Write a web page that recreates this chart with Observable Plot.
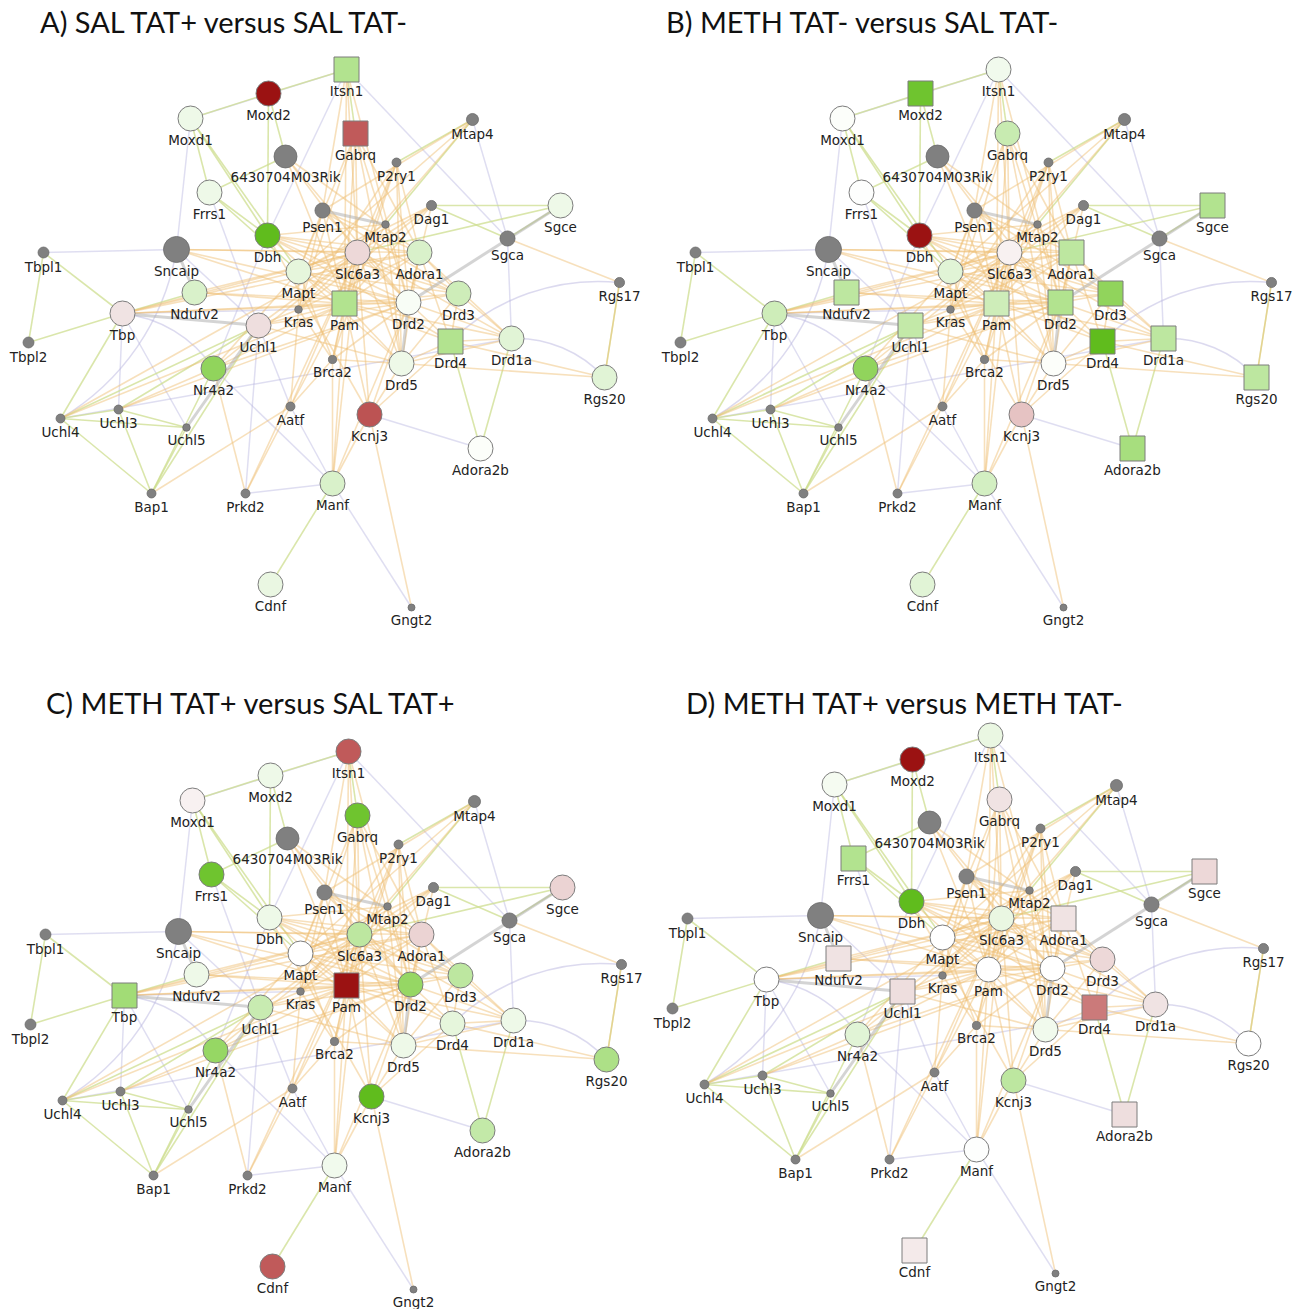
<!DOCTYPE html>
<html><head><meta charset="utf-8">
<script src="https://cdn.jsdelivr.net/npm/d3@7"></script>
<script src="https://cdn.jsdelivr.net/npm/@observablehq/plot@0.6"></script>
<style>
body{margin:0;background:#fff;}
#wrap{position:relative;width:1303px;height:1309px;overflow:hidden;background:#fff;}
.title{position:absolute;font-family:Lato,"Open Sans",sans-serif;font-size:29px;color:#111;white-space:nowrap;line-height:1;}
.panel{position:absolute;}
.panel svg{overflow:visible;}
</style></head><body><div id="wrap"></div>
<script>
// ---- network layout (Cytoscape/GeneMANIA layout coordinates) ----
const queryGenes = ["Itsn1","Moxd2","Moxd1","Gabrq","Frrs1","Dbh","Sgce","Mapt","Slc6a3","Adora1","Ndufv2","Tbp","Uchl1","Pam","Drd2","Drd3","Drd4","Drd1a","Drd5","Nr4a2","Rgs20","Kcnj3","Adora2b","Manf","Cdnf"];
const queryX = [346,268,190,355,209,267,560,298,357,419,194,122,258,344,408,458,450,511,401,213,604,369,480,332,270];
const queryY = [69,93,118,133,192,235,205,271,252,252,292,313,325,303,302,293,341,338,363,368,377,414,448,483,584];

const relatedGenes = ["6430704M03Rik","Mtap4","P2ry1","Psen1","Dag1","Mtap2","Sgca","Sncaip","Tbpl1","Tbpl2","Kras","Rgs17","Brca2","Uchl3","Uchl4","Uchl5","Aatf","Bap1","Prkd2","Gngt2"];
const relatedX = [285,472,396,322,431,385,507,176,43,28,298,619,332,118,60,186,290,151,245,411];
const relatedY = [156,119,162,210,205,224,238,249,252,342,309,282,359,409,418,427,406,493,493,607];
const relatedScore = [0.82,0.43,0.32,0.54,0.36,0.27,0.54,0.93,0.39,0.39,0.27,0.36,0.29,0.32,0.32,0.27,0.32,0.32,0.32,0.25];

// ---- expression change per comparison (aligned with queryGenes) ----
const foldA = [1.7,-3,0.5,-2,0.5,3,0.5,0.7,-0.6,1.0,1.0,-0.4,-0.5,1.7,0.2,1.2,1.7,0.8,0.5,2.3,0.8,-2.1,0.1,1.0,0.6];
const foldB = [0.4,2.8,0.1,1.3,0.05,-3,1.7,0.8,-0.2,1.5,1.5,1.2,1.4,1.2,1.7,2.3,3,1.5,0.1,2.3,1.5,-1.0,1.9,1.1,0.8];
const foldC = [-2,0.5,-0.2,2.8,2.8,0.5,-0.7,0,1.5,-0.7,0.5,2.0,1.3,-3,2.2,1.5,0.7,0.5,0.5,2.2,1.8,3.0,1.4,0.4,-2];
const foldD = [0.6,-3,0.3,-0.4,1.7,3,-0.6,0,0.6,-0.4,-0.4,0,-0.5,0,0,-0.6,-1.7,-0.4,0.4,0.8,0,1.5,-0.5,0.05,-0.3];

// significant genes (drawn as squares)
const sigA = ["Itsn1","Gabrq","Pam","Drd4"];
const sigB = ["Moxd2","Sgce","Adora1","Ndufv2","Uchl1","Pam","Drd2","Drd3","Drd4","Drd1a","Rgs20","Adora2b"];
const sigC = ["Tbp","Pam"];
const sigD = ["Frrs1","Sgce","Adora1","Ndufv2","Uchl1","Drd4","Adora2b","Cdnf"];

const titles = ["A) SAL TAT+ versus SAL TAT-","B) METH TAT- versus SAL TAT-","C) METH TAT+ versus SAL TAT+","D) METH TAT+ versus METH TAT-"];

// ---- interactions ----
const coexpression = ["Itsn1-Slc6a3","Itsn1-Drd2","Itsn1-Psen1","Itsn1-Pam",
"Gabrq-Pam","Gabrq-Drd2","Gabrq-Adora1","Gabrq-Mapt","Gabrq-Slc6a3","Gabrq-Drd5","Gabrq-Kras",
"6430704M03Rik-Slc6a3","6430704M03Rik-Pam","6430704M03Rik-Drd2","6430704M03Rik-Adora1",
"P2ry1-Adora1","P2ry1-Slc6a3","P2ry1-Drd2","P2ry1-Kras","P2ry1-Pam","P2ry1-Drd5","P2ry1-Brca2",
"Mtap4-Psen1","Mtap4-Mapt","Mtap4-Slc6a3",
"Psen1-Mapt","Psen1-Pam","Psen1-Kras","Psen1-Drd2","Psen1-Adora1","Psen1-Drd3",
"Dag1-Pam","Dag1-Slc6a3","Dag1-Mapt","Dag1-Drd2","Dag1-Kras",
"Mtap2-Mapt","Mtap2-Pam","Mtap2-Drd5","Mtap2-Dbh",
"Dbh-Slc6a3","Dbh-Drd2","Dbh-Pam","Dbh-Drd3","Dbh-Adora1","Dbh-Kcnj3","Dbh-Drd4",
"Sncaip-Pam","Sncaip-Slc6a3","Sncaip-Drd2","Sncaip-Adora1",
"Slc6a3-Drd2","Slc6a3-Drd3","Slc6a3-Drd5","Slc6a3-Pam","Slc6a3-Mapt","Slc6a3-Kras","Slc6a3-Brca2","Slc6a3-Drd1a","Slc6a3-Kcnj3","Slc6a3-Nr4a2","Slc6a3-Uchl1",
"Adora1-Drd2","Adora1-Drd3","Adora1-Drd1a","Adora1-Pam","Adora1-Mapt","Adora1-Drd5","Adora1-Kras","Adora1-Drd4",
"Mapt-Pam","Mapt-Kras","Mapt-Drd2","Mapt-Drd3","Mapt-Brca2","Mapt-Drd5",
"Ndufv2-Pam","Ndufv2-Slc6a3","Ndufv2-Drd2",
"Tbp-Mapt","Tbp-Pam","Tbp-Slc6a3","Tbp-Drd2","Tbp-Adora1",
"Uchl1-Pam","Uchl1-Drd2","Uchl1-Kras","Uchl1-Drd5",
"Pam-Drd2","Pam-Drd3","Pam-Drd5","Pam-Drd1a","Pam-Kras","Pam-Brca2","Pam-Drd4","Pam-Kcnj3",
"Drd2-Drd3","Drd2-Drd4","Drd2-Drd1a","Drd2-Kcnj3","Drd2-Brca2",
"Drd3-Drd4","Drd3-Drd1a","Drd3-Drd5",
"Drd4-Drd5","Drd4-Drd1a","Drd4-Rgs20","Drd1a-Drd5","Drd5-Rgs20",
"Nr4a2-Prkd2","Nr4a2-Pam","Nr4a2-Drd2","Nr4a2-Mapt",
"Uchl3-Nr4a2","Uchl4-Slc6a3","Uchl4-Pam","Uchl3-Drd2","Bap1-Aatf",
"Aatf-Kras","Aatf-Pam","Aatf-Prkd2","Aatf-Slc6a3",
"Brca2-Kras","Brca2-Drd5","Brca2-Aatf",
"Kcnj3-Drd5","Kcnj3-Gngt2","Kcnj3-Manf","Kcnj3-Drd4",
"Manf-Pam","Manf-Brca2","Manf-Slc6a3","Manf-Drd2",
"Rgs17-Rgs20","Sgca-Rgs17","Prkd2-Slc6a3"];

const physical = ["Itsn1-Moxd1","Itsn1-Sgca","Itsn1-Dbh","Moxd1-Sncaip","Mtap4-Sgca","Tbp-Uchl3","Tbp-Uchl5",
"Tbpl1-Sncaip","Uchl1-Prkd2","Nr4a2-Manf","Prkd2-Manf","Manf-Gngt2","Kcnj3-Adora2b","Frrs1-Uchl1",
"Dbh-Nr4a2","Uchl1-Aatf","Sncaip-Uchl1","Sgca-Drd1a","Uchl4-Drd1a","Tbp-Kras","Aatf-Manf"];

const sharedDomains = ["Moxd1-Moxd2","Moxd1-Frrs1","Moxd1-Dbh","Moxd2-Dbh","Moxd2-6430704M03Rik","Frrs1-6430704M03Rik",
"Frrs1-Dbh","Frrs1-Mapt","Moxd1-Mapt","Tbpl1-Tbp","Tbpl1-Tbpl2","Tbpl2-Tbp","Tbp-Uchl4","Tbp-Ndufv2",
"Uchl4-Uchl3","Uchl4-Uchl5","Uchl3-Uchl5","Uchl4-Bap1","Uchl3-Bap1","Uchl5-Bap1","Uchl1-Uchl4","Uchl1-Uchl3",
"Uchl1-Bap1","Nr4a2-Bap1","Manf-Cdnf","Mtap4-Mtap2","Mtap4-P2ry1","Sgce-Sgca","Sgce-Dag1","Sgca-Dag1",
"Sgce-Slc6a3","Drd4-Adora2b","Drd1a-Adora2b","Rgs17-Rgs20","Itsn1-Gabrq","Itsn1-Moxd2"];

const predicted = ["Sgce-Drd2","Drd2-Drd5","Uchl5-Uchl1","Sncaip-Ndufv2","Psen1-Mtap2","Tbp-Uchl1"];
const arcs = ["Drd1a-Rgs20","Sncaip-Uchl4","Tbp-Nr4a2","Drd4-Rgs17"];

// ---- build ----
const nodes = queryGenes.map((g, i) => ({name: g, x: queryX[i], y: queryY[i], query: true, i}))
  .concat(relatedGenes.map((g, i) => ({name: g, x: relatedX[i], y: relatedY[i], query: false, score: relatedScore[i]})));
const pos = new Map(nodes.map(n => [n.name, n]));
const pairs = list => list.map(s => s.split("-"));
const QR = 12.5, RMAX = 14;
const labelOffset = n => (n.query ? QR : n.score * RMAX) + 9.5;

const folds = [foldA, foldB, foldC, foldD];
const sigs = [sigA, sigB, sigC, sigD];
const boxes = [
  {left: 0, top: 40, w: 651, h: 642, tx: 40, ty: 7},
  {left: 652, top: 40, w: 651, h: 642, tx: 666, ty: 7},
  {left: 2, top: 722, w: 651, h: 587, tx: 46, ty: 688},
  {left: 644, top: 706, w: 659, h: 603, tx: 686, ty: 688}
];

const colorScale = {
  type: "linear",
  domain: [-3, -2, -1, -0.4, 0, 0.5, 1, 1.5, 2, 2.5, 3],
  range: ["#9b1212","#c05a5a","#e6c3c3","#f0e3e3","#ffffff","#eef9e8","#d9f1ca","#bde7a0","#a2dc76","#85cf4a","#60bc1d"],
  interpolate: "rgb"
};

const wrap = document.getElementById("wrap");
const link = (list, o) => Plot.link(pairs(list), {
  x1: d => pos.get(d[0]).x, y1: d => pos.get(d[0]).y,
  x2: d => pos.get(d[1]).x, y2: d => pos.get(d[1]).y, ...o});

folds.forEach((fold, p) => {
  const b = boxes[p];
  const q = nodes.filter(n => n.query).map(n => ({...n, fc: fold[n.i]}));
  const squares = q.filter(n => sigs[p].includes(n.name));
  const circles = q.filter(n => !sigs[p].includes(n.name));
  const related = nodes.filter(n => !n.query);
  const chart = Plot.plot({
    width: b.w, height: b.h,
    marginTop: 0, marginRight: 0, marginBottom: 0, marginLeft: 0,
    x: {domain: [0, b.w], range: [0, b.w], axis: null},
    y: {domain: [40, 40 + b.h], range: [0, b.h], axis: null},
    r: {type: "linear", domain: [0, 1], range: [0, RMAX]},
    color: colorScale,
    style: {background: "transparent", overflow: "visible"},
    marks: [
      link(physical, {stroke: "#b9b5e0", strokeOpacity: 0.45, strokeWidth: 1.5}),
      Plot.arrow(pairs(arcs), {x1: d => pos.get(d[0]).x, y1: d => pos.get(d[0]).y,
        x2: d => pos.get(d[1]).x, y2: d => pos.get(d[1]).y, bend: 25, headLength: 0,
        stroke: "#b9b5e0", strokeOpacity: 0.5, strokeWidth: 1.5}),
      link(sharedDomains, {stroke: "#cddd8f", strokeOpacity: 0.75, strokeWidth: 1.6}),
      link(coexpression, {stroke: "#efbe72", strokeOpacity: 0.48, strokeWidth: 1.6}),
      link(predicted, {stroke: "#a9a9a9", strokeOpacity: 0.5, strokeWidth: 3}),
      Plot.dot(related, {x: "x", y: "y", r: "score", fill: "#808080", stroke: "#6a6a6a", strokeWidth: 0.8}),
      Plot.dot(circles, {x: "x", y: "y", r: QR, fill: "fc", stroke: "#7c7c7c", strokeWidth: 1}),
      Plot.dot(squares, {x: "x", y: "y", r: QR * Math.sqrt(4 / Math.PI), symbol: "square", fill: "fc", stroke: "#7c7c7c", strokeWidth: 1}),
      Plot.text(nodes, {x: "x", y: n => n.y + labelOffset(n), text: "name", fontSize: 13.5,
        fontFamily: "DejaVu Sans, Verdana, sans-serif", fill: "#222", lineAnchor: "middle"})
    ]
  });
  const div = document.createElement("div");
  div.className = "panel";
  div.style.left = b.left + "px"; div.style.top = b.top + "px";
  div.appendChild(chart);
  wrap.appendChild(div);
  const t = document.createElement("div");
  t.className = "title";
  t.style.left = b.tx + "px"; t.style.top = b.ty + "px";
  t.textContent = titles[p];
  wrap.appendChild(t);
});
</script></body></html>
